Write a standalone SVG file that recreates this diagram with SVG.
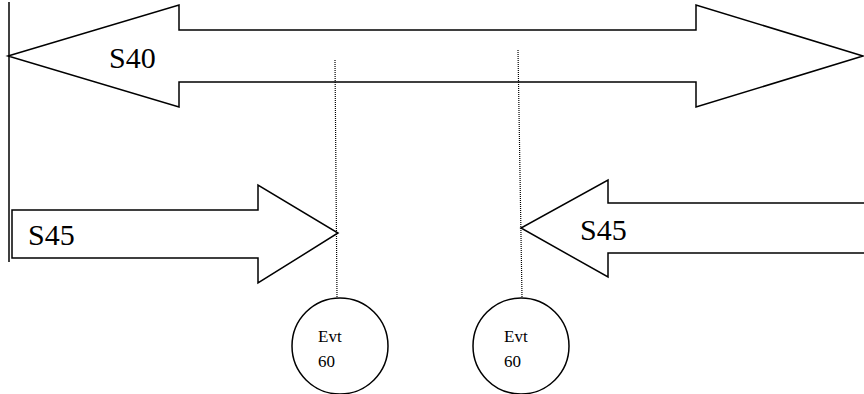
<svg xmlns="http://www.w3.org/2000/svg" width="864" height="394" viewBox="0 0 864 394">
<style>
.s{fill:#fff;stroke:#000;stroke-width:1.5;stroke-linejoin:miter}
.l{fill:none;stroke:#000;stroke-width:1.5}
.d{fill:none;stroke:#000;stroke-width:1.2;stroke-dasharray:1 1}
text{font-family:'Liberation Serif','DejaVu Serif',serif;fill:#000}
.big{font-size:30px}
.sm{font-size:17px}
</style>
<rect width="864" height="394" fill="#fff"/>
<g id="s40">
<polygon class="s" points="8,56 179,5 179,30 696,30 696,5 863,56 696,107 696,82 179,82 179,107"/>
<text class="big" x="109" y="68">S40</text>
</g>
<g id="s45-left">
<polygon class="s" points="12,210 258,210 258,185 338,233 258,283 258,258 12,258"/>
<text class="big" x="28" y="245">S45</text>
</g>
<g id="s45-right">
<polygon class="s" points="866,203 608,203 608,180 521,228 608,277 608,253 866,253"/>
<text class="big" x="580" y="240">S45</text>
</g>
<g id="evt1">
<circle class="s" cx="340" cy="346" r="48"/>
<text class="sm" x="318" y="342">Evt</text>
<text class="sm" x="318" y="367">60</text>
</g>
<g id="evt2">
<circle class="s" cx="521" cy="346" r="48"/>
<text class="sm" x="504" y="342">Evt</text>
<text class="sm" x="504" y="367">60</text>
</g>
<g id="connectors">
<line class="l" x1="9" y1="2" x2="9" y2="262"/>
<line class="d" x1="335" y1="60" x2="337" y2="298"/>
<line class="d" x1="518" y1="50" x2="522" y2="298"/>
</g>
</svg>
